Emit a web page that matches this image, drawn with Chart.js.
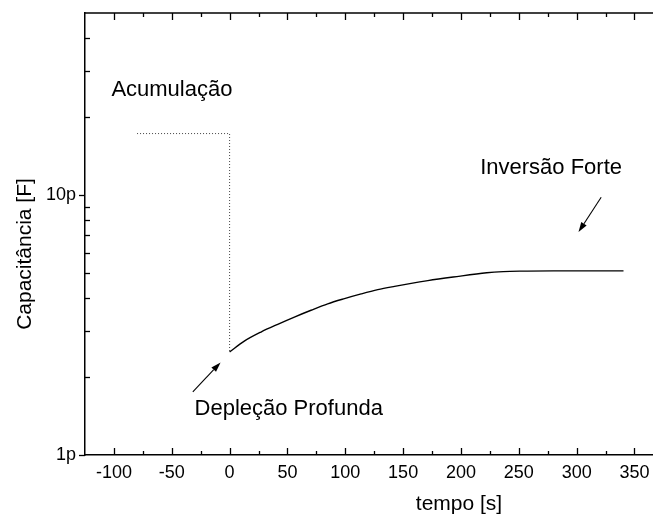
<!DOCTYPE html>
<html><head><meta charset="utf-8">
<script src="https://cdn.jsdelivr.net/npm/chart.js@4/dist/chart.umd.min.js"></script>
<style>html,body{margin:0;padding:0;background:#fff;overflow:hidden}</style>
</head><body>
<canvas id="c" width="653" height="520"></canvas>
<script>
// ---- data (time in s, capacitance in pF) ----
const accumX = [-80, 0, 0];
const accumY = [17.2, 17.2, 2.49];
const curveX = [0, 12.7, 27.1, 41.6, 56.0, 70.4, 84.8, 99.3, 113.7, 128.1, 142.6, 157.0, 171.4, 193.3, 222.3, 236.6, 251.1, 279.9, 340.5];
const curveY = [2.49, 2.74, 2.97, 3.18, 3.39, 3.60, 3.81, 3.99, 4.16, 4.32, 4.45, 4.57, 4.68, 4.83, 5.02, 5.07, 5.09, 5.10, 5.10];
const xTickValues = [-100, -50, 0, 50, 100, 150, 200, 250, 300, 350];
const yTickValues = [1, 10];
const yMinorValues = [2, 3, 4, 5, 6, 7, 8, 9, 20, 30, 40];
const xTitle = 'tempo [s]';
const yTitle = 'Capacitância [F]';
const notes = [
  {text: 'Acumulação', x: -102.2, y: 23.9},
  {text: 'Inversão Forte', x: 216.6, y: 12.04},
  {text: 'Depleção Profunda', x: -30.3, y: 1.42}
];
const arrows = [
  {x0: -31.8, y0: 1.75, x1: -7.8, y1: 2.27},
  {x0: 321.2, y0: 9.79, x1: 301.6, y1: 7.19}
];

const FONT = 'Liberation Sans, Arial, sans-serif';

function drawArrow(ctx, x0, y0, x1, y1) {
  const ang = Math.atan2(y1 - y0, x1 - x0);
  const L = 10, W = 3.2;
  const bx = x1 - L * Math.cos(ang), by = y1 - L * Math.sin(ang);
  ctx.beginPath(); ctx.moveTo(x0, y0); ctx.lineTo(bx, by); ctx.stroke();
  ctx.beginPath();
  ctx.moveTo(x1, y1);
  ctx.lineTo(bx + W * Math.sin(ang), by - W * Math.cos(ang));
  ctx.lineTo(bx - W * Math.sin(ang), by + W * Math.cos(ang));
  ctx.closePath(); ctx.fill();
}

const decor = {
  id: 'decor',
  afterDraw(chart) {
    const {ctx, chartArea: a, scales: {x, y}} = chart;
    ctx.save();
    ctx.strokeStyle = '#000'; ctx.fillStyle = '#000';
    // top frame
    ctx.lineWidth = 1.5;
    ctx.beginPath(); ctx.moveTo(a.left, a.top); ctx.lineTo(a.right, a.top); ctx.stroke();
    // x ticks (inward, bottom & top)
    ctx.lineWidth = 1.3;
    xTickValues.forEach(v => {
      const px = Math.round(x.getPixelForValue(v)) + 0.5;
      ctx.beginPath();
      ctx.moveTo(px, a.bottom); ctx.lineTo(px, a.bottom - 7);
      ctx.moveTo(px, a.top); ctx.lineTo(px, a.top + 7);
      ctx.stroke();
      const m = v + 25;
      if (m < x.max) {
        const pm = Math.round(x.getPixelForValue(m)) + 0.5;
        ctx.beginPath();
        ctx.moveTo(pm, a.bottom); ctx.lineTo(pm, a.bottom - 4);
        ctx.moveTo(pm, a.top); ctx.lineTo(pm, a.top + 4);
        ctx.stroke();
      }
    });
    const m0 = xTickValues[0] - 25;
    if (m0 > x.min) {
      const pm = Math.round(x.getPixelForValue(m0)) + 0.5;
      ctx.beginPath(); ctx.moveTo(pm, a.bottom); ctx.lineTo(pm, a.bottom - 4);
      ctx.moveTo(pm, a.top); ctx.lineTo(pm, a.top + 4); ctx.stroke();
    }
    // y minor ticks inward
    yMinorValues.forEach(v => {
      const py = Math.round(y.getPixelForValue(v)) + 0.5;
      ctx.beginPath(); ctx.moveTo(a.left, py); ctx.lineTo(a.left + 5, py); ctx.stroke();
    });
    // y major ticks outward
    yTickValues.forEach(v => {
      const py = Math.round(y.getPixelForValue(v)) + 0.5;
      ctx.beginPath(); ctx.moveTo(a.left - 6, py); ctx.lineTo(a.left, py); ctx.stroke();
    });
    // arrows
    ctx.lineWidth = 1.1;
    arrows.forEach(r => drawArrow(ctx,
      x.getPixelForValue(r.x0), y.getPixelForValue(r.y0),
      x.getPixelForValue(r.x1), y.getPixelForValue(r.y1)));
    // annotation texts
    ctx.font = '22px ' + FONT;
    ctx.textAlign = 'left'; ctx.textBaseline = 'alphabetic';
    notes.forEach(n => ctx.fillText(n.text, x.getPixelForValue(n.x), y.getPixelForValue(n.y)));
    // axis titles
    ctx.font = '21px ' + FONT;
    ctx.textAlign = 'center'; ctx.textBaseline = 'middle';
    ctx.fillText(xTitle, 459, 504);
    ctx.translate(25, 254); ctx.rotate(-Math.PI / 2);
    ctx.fillText(yTitle, 0, 0);
    ctx.restore();
  }
};

new Chart(document.getElementById('c'), {
  type: 'line',
  data: {
    datasets: [
      {
        data: accumX.map((v, i) => ({x: v, y: accumY[i]})),
        borderColor: '#444', borderWidth: 1, borderDash: [1, 2],
        pointRadius: 0, fill: false, tension: 0
      },
      {
        data: curveX.map((v, i) => ({x: v, y: curveY[i]})),
        borderColor: '#000', borderWidth: 1.4,
        pointRadius: 0, fill: false, cubicInterpolationMode: 'monotone'
      }
    ]
  },
  options: {
    responsive: false, animation: false, devicePixelRatio: 1,
    layout: {padding: {top: 13, right: 0, left: 0, bottom: 0}},
    plugins: {legend: {display: false}, tooltip: {enabled: false}},
    scales: {
      x: {
        type: 'linear', min: -125, max: 366,
        afterFit: s => { s.height = 65; s.paddingLeft = 0; s.paddingRight = 0; },
        afterBuildTicks: s => { s.ticks = xTickValues.map(v => ({value: v})); },
        grid: {display: false, drawTicks: false},
        border: {display: true, color: '#000', width: 1.5},
        ticks: {color: '#000', padding: 7, maxRotation: 0, autoSkip: false,
                font: {family: FONT, size: 18}, callback: v => String(v)}
      },
      y: {
        type: 'logarithmic', min: 1, max: 50,
        afterFit: s => { s.width = 85; s.paddingTop = 0; s.paddingBottom = 0; },
        afterBuildTicks: s => { s.ticks = yTickValues.map(v => ({value: v})); },
        grid: {display: false, drawTicks: false},
        border: {display: true, color: '#000', width: 1.5},
        ticks: {color: '#000', padding: 9, autoSkip: false,
                font: {family: FONT, size: 18}, callback: v => v + 'p'}
      }
    }
  },
  plugins: [decor]
});
</script>
</body></html>
